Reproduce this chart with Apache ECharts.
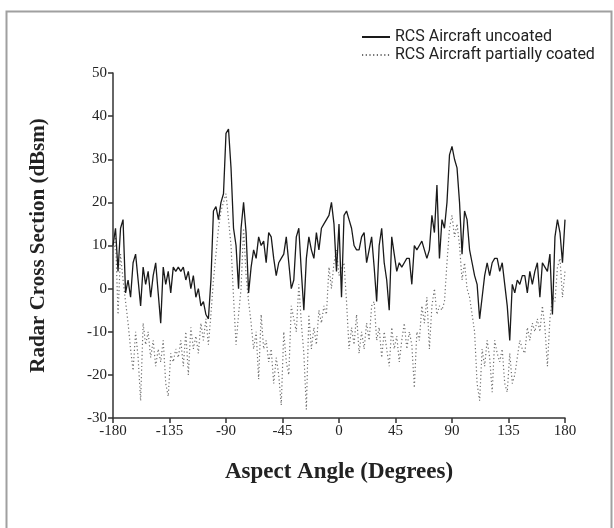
<!DOCTYPE html>
<html>
<head>
<meta charset="utf-8">
<script src="https://cdn.jsdelivr.net/npm/echarts@6/dist/echarts.min.js"></script>
<style>
html,body{margin:0;padding:0;background:#fff;}
#chart{width:614px;height:528px;}
</style>
</head>
<body>
<div id="chart"></div>
<script>
const angles = [
-180,-178,-176,-174,-172,-170,-168,-166,-164,-162,-160,-158,-156,-154,-152,-150,-148,-146,-144,-142,
-140,-138,-136,-134,-132,-130,-128,-126,-124,-122,-120,-118,-116,-114,-112,-110,-108,-106,-104,-102,
-100,-98,-96,-94,-92,-90,-88,-86,-84,-82,-80,-78,-76,-74,-72,-70,-68,-66,-64,-62,
-60,-58,-56,-54,-52,-50,-48,-46,-44,-42,-40,-38,-36,-34,-32,-30,-28,-26,-24,-22,
-20,-18,-16,-14,-12,-10,-8,-6,-4,-2,0,2,4,6,8,10,12,14,16,18,
20,22,24,26,28,30,32,34,36,38,40,42,44,46,48,50,52,54,56,58,
60,62,64,66,68,70,72,74,76,78,80,82,84,86,88,90,92,94,96,98,
100,102,104,106,108,110,112,114,116,118,120,122,124,126,128,130,132,134,136,138,
140,142,144,146,148,150,152,154,156,158,160,162,164,166,168,170,172,174,176,178,180
];
const uncoated = [
10,14,4,14,16,-1,2,-2,6,8,2,-4,5,1,4,-2,3,6,-1,-8,
5,1,4,-1,5,4,5,4,5,2,4,0,3,-2,0,-4,-3,-6,-7,2,
18,19,16,20,22,36,37,28,14,10,0,14,20,13,-1,5,9,7,12,10,
11,6,13,12,7,3,6,7,8,12,6,0,2,12,14,4,-5,7,12,9,
7,13,9,14,15,16,17,20,15,4,15,-2,17,18,16,14,10,9,9,12,
13,6,9,12,5,-3,10,14,6,2,-5,12,8,4,6,5,6,7,7,1,
10,9,10,11,9,7,9,17,13,24,7,16,14,20,31,33,30,28,20,8,
18,16,9,6,3,1,-7,-2,3,6,3,6,7,7,4,6,1,-4,-12,1,
-1,2,1,3,3,-1,4,1,4,6,-2,6,5,4,8,-6,12,16,13,6,16
];
const partiallyCoated = [
8,12,-6,8,2,-3,-8,-14,-19,-10,-16,-26,-8,-13,-10,-16,-12,-18,-14,-17,
-12,-22,-25,-15,-17,-14,-16,-12,-18,-10,-20,-9,-14,-11,-15,-8,-12,-7,-13,-6,
2,8,14,18,20,22,16,10,-2,-13,-6,0,14,3,-3,-8,-14,-10,-21,-6,
-14,-12,-17,-14,-22,-16,-20,-27,-10,-17,-20,-4,-7,-10,1,-8,-15,-28,-6,-14,
-9,-13,-5,-8,-4,-6,5,0,6,9,3,5,6,-3,-14,-9,-13,-6,-15,-10,
-14,-8,-12,-4,-3,-12,-9,-16,-10,-14,-18,-9,-14,-11,-17,-12,-8,-14,-10,-13,
-23,-10,-12,-4,-8,-2,-14,-4,0,-6,-4,-5,-3,6,14,17,12,15,10,2,
6,0,-2,-6,-10,-22,-26,-14,-18,-12,-16,-24,-12,-15,-17,-14,-22,-24,-15,-22,
-20,-16,-12,-14,-15,-9,-12,-8,-10,-7,-10,-4,-9,-18,-7,-2,-3,5,7,-2,4
];
const xTicks = [-180,-135,-90,-45,0,45,90,135,180];
const yTicks = [-30,-20,-10,0,10,20,30,40,50];

const pair = (vals) => angles.map((a, i) => [a, vals[i]]);
const serif = '"Liberation Serif", "DejaVu Serif", serif';

const chart = echarts.init(document.getElementById('chart'), null, {renderer: 'canvas'});
chart.setOption({
  animation: false,
  backgroundColor: '#fff',
  graphic: [{
    type: 'rect', left: 4, top: 9, silent: true, z: -10,
    shape: {width: 605, height: 530},
    style: {fill: 'none', stroke: '#a0a0a0', lineWidth: 2}
  }],
  legend: {
    orient: 'vertical', left: 356, top: 24, itemGap: 2,
    itemWidth: 28, itemHeight: 12,
    itemStyle: {color: 'transparent', borderColor: 'transparent', borderWidth: 0},
    textStyle: {fontFamily: 'Roboto, "DejaVu Sans", sans-serif', fontSize: 16, color: '#222'},
    data: ['RCS Aircraft uncoated', 'RCS Aircraft partially coated']
  },
  grid: {left: 113, right: 49, top: 73, bottom: 110},
  xAxis: {
    type: 'value', min: xTicks[0], max: xTicks[xTicks.length - 1], interval: 45,
    name: 'Aspect Angle (Degrees)', nameLocation: 'middle', nameGap: 43,
    nameTextStyle: {fontFamily: serif, fontSize: 23, fontWeight: 'bold', color: '#222'},
    axisLine: {onZero: false, lineStyle: {color: '#333', width: 1.5}},
    axisTick: {show: true, length: 5, lineStyle: {color: '#333', width: 1.5}},
    axisLabel: {fontFamily: serif, fontSize: 15, color: '#222', margin: 6},
    splitLine: {show: false}
  },
  yAxis: {
    type: 'value', min: yTicks[0], max: yTicks[yTicks.length - 1], interval: 10,
    name: 'Radar Cross Section (dBsm)', nameLocation: 'middle', nameGap: 64,
    nameTextStyle: {fontFamily: serif, fontSize: 21, fontWeight: 'bold', color: '#222'},
    axisLine: {show: true, onZero: false, lineStyle: {color: '#333', width: 1.5}},
    axisTick: {show: true, length: 5, lineStyle: {color: '#333', width: 1.5}},
    axisLabel: {fontFamily: serif, fontSize: 15, color: '#222', margin: 6},
    splitLine: {show: false}
  },
  series: [
    {
      name: 'RCS Aircraft uncoated', type: 'line', data: pair(uncoated),
      showSymbol: false, symbol: 'none',
      lineStyle: {color: '#1a1a1a', width: 1.3},
      itemStyle: {color: '#1a1a1a'}, z: 3
    },
    {
      name: 'RCS Aircraft partially coated', type: 'line', data: pair(partiallyCoated),
      showSymbol: false, symbol: 'none',
      lineStyle: {color: '#6e6e6e', width: 1.2, type: [1.2, 2.5]},
      itemStyle: {color: '#6e6e6e'}, z: 2
    }
  ]
});
</script>
</body>
</html>
